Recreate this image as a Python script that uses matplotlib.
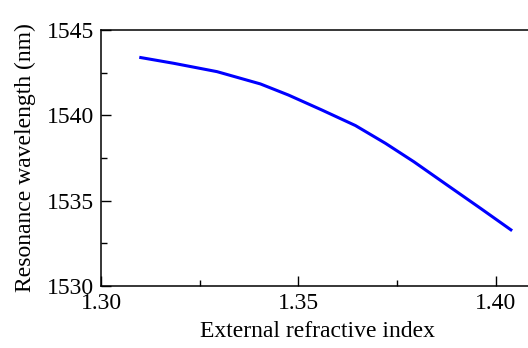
import numpy as np
import matplotlib.pyplot as plt
from matplotlib.ticker import MultipleLocator, FuncFormatter

plt.rcParams['font.family'] = ['Liberation Serif', 'DejaVu Serif']

# values
ri = [1.3097, 1.3184, 1.3294, 1.3404, 1.3475, 1.3560, 1.3645, 1.3721,
      1.3793, 1.3877, 1.3962, 1.4042]
wl = [1543.40, 1543.05, 1542.56, 1541.84, 1541.19, 1540.31, 1539.40,
      1538.36, 1537.28, 1535.92, 1534.55, 1533.24]

fig = plt.figure(figsize=(5.28, 3.48), dpi=100)
# right spine falls just outside the canvas, as in the reference
ax = fig.add_axes([101/528, 62/348, 434/528, 256/348])
ax.plot(ri, wl, color='#0000ff', lw=2.2, solid_capstyle='butt')

ax.set_xlim(1.30, 1.41)
ax.set_ylim(1530, 1545)
ax.xaxis.set_major_locator(MultipleLocator(0.05))
ax.xaxis.set_minor_locator(MultipleLocator(0.025))
ax.yaxis.set_major_locator(MultipleLocator(5))
ax.yaxis.set_minor_locator(MultipleLocator(2.5))
ax.xaxis.set_major_formatter(FuncFormatter(lambda v, p: '%.2f' % v))
ax.yaxis.set_major_formatter(FuncFormatter(lambda v, p: '%d' % round(v)))

ax.tick_params(which='both', direction='in', top=False, right=False, labelsize=17)
ax.tick_params(which='major', length=7, width=1, pad=5)
ax.tick_params(which='minor', length=4, width=1)
for s in ax.spines.values():
    s.set_linewidth(1.1)

ax.set_xlabel('External refractive index', fontsize=17, labelpad=5)
ax.set_ylabel('Resonance wavelength (nm)', fontsize=17, labelpad=8)

fig.savefig('out.png', dpi=100)
